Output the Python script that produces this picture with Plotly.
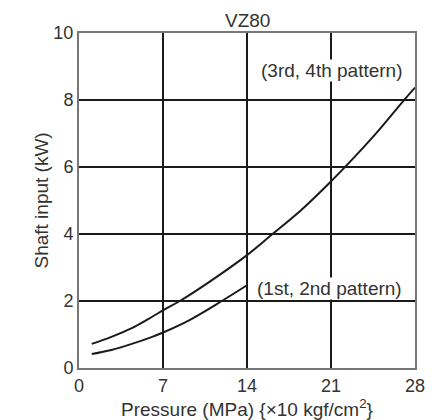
import plotly.graph_objects as go

# Data
upper_x = [1.06, 2.7, 4.4, 6.1, 7.0, 8.4, 10.9, 14.0, 16.1, 18.5, 21.0, 22.2, 24.7, 27.0, 28.0]
upper_y = [0.72, 0.93, 1.19, 1.53, 1.72, 2.0, 2.58, 3.37, 3.99, 4.71, 5.57, 6.01, 6.98, 7.96, 8.37]
lower_x = [1.06, 2.7, 4.4, 6.1, 7.0, 9.25, 11.9, 14.0]
lower_y = [0.42, 0.54, 0.72, 0.93, 1.06, 1.44, 2.0, 2.47]
x_ticks = [0, 7, 14, 21, 28]
y_ticks = [0, 2, 4, 6, 8, 10]
label_upper = "(3rd, 4th pattern)"
label_lower = "(1st, 2nd pattern)"
title_text = "VZ80"
x_title = "Pressure (MPa) {×10 kgf/cm<sup>2</sup>}"
y_title = "Shaft input (kW)"

FONT = "Liberation Sans, Arial, sans-serif"
TXT = "#333333"
FS = 18
FL = 19

fig = go.Figure()
fig.add_trace(go.Scatter(x=upper_x, y=upper_y, mode="lines",
                         line=dict(color="#1a1a1a", width=2, shape="spline", smoothing=1.0),
                         showlegend=False, hoverinfo="skip"))
fig.add_trace(go.Scatter(x=lower_x, y=lower_y, mode="lines",
                         line=dict(color="#1a1a1a", width=2, shape="spline", smoothing=1.0),
                         showlegend=False, hoverinfo="skip"))

fig.add_annotation(x=21.05, y=8.88, text=label_upper, showarrow=False, bgcolor="white",
                   font=dict(family=FONT, size=FL, color=TXT), borderpad=0)
fig.add_annotation(x=20.9, y=2.36, text=label_lower, showarrow=False, bgcolor="white",
                   font=dict(family=FONT, size=FL, color=TXT), borderpad=0)

# titles as paper annotations for exact placement
fig.add_annotation(xref="paper", yref="paper", x=0.5, y=1.037, text=title_text, showarrow=False,
                   xanchor="center", yanchor="middle", font=dict(family=FONT, size=FL, color=TXT))
fig.add_annotation(xref="paper", yref="paper", x=0.5, y=-0.119, text=x_title, showarrow=False,
                   xanchor="center", yanchor="middle", font=dict(family=FONT, size=FL, color=TXT))
fig.add_annotation(xref="paper", yref="paper", x=-0.113, y=0.5, text=y_title, showarrow=False,
                   textangle=-90, xanchor="center", yanchor="middle",
                   font=dict(family=FONT, size=FL, color=TXT))

fig.update_layout(
    width=435, height=420,
    margin=dict(l=79, r=20, t=33, b=52, autoexpand=False),
    paper_bgcolor="white", plot_bgcolor="white",
    font=dict(family=FONT, size=FS, color=TXT),
    xaxis=dict(range=[0, 28], tickvals=x_ticks, ticks="", showgrid=True, gridcolor="#1a1a1a",
               gridwidth=1.5, zeroline=False, showline=True, mirror=True, linecolor="#777",
               linewidth=2, tickfont=dict(size=FS, color=TXT)),
    yaxis=dict(range=[0, 10], tickvals=y_ticks, ticks="", showgrid=True, gridcolor="#1a1a1a",
               gridwidth=1.5, zeroline=False, showline=True, mirror=True, linecolor="#777",
               linewidth=2, tickfont=dict(size=FS, color=TXT)),
)

fig.write_html("out.html", config={"displayModeBar": False},
               post_script="document.body.style.margin='0px';")
